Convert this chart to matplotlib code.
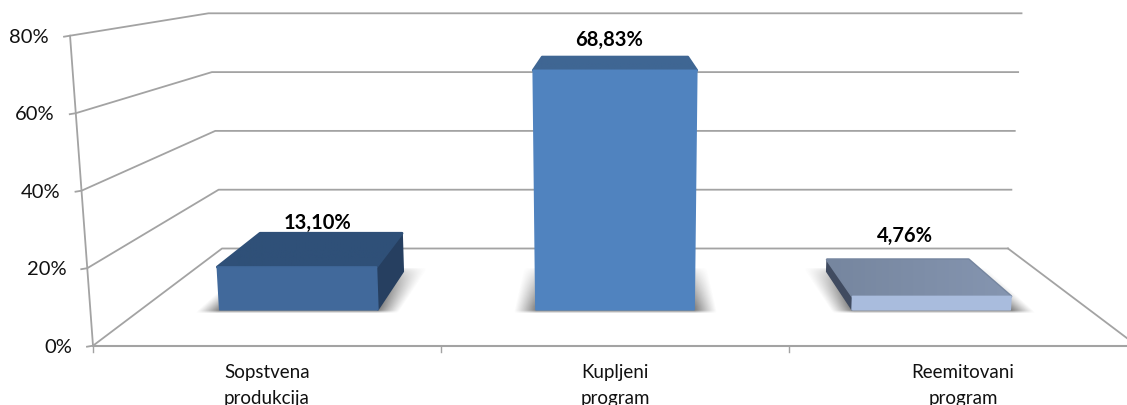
#!/usr/bin/env python3
"""
Recreate the 3D column chart (share of programme types)
"""

import matplotlib
matplotlib.use('Agg')
import matplotlib.pyplot as plt
from matplotlib.colors import to_rgb
from matplotlib.patches import Polygon
import numpy as np

# Data
categories = ['Sopstvena\nprodukcija', 'Kupljeni\nprogram', 'Reemitovani\nprogram']
values = [13.10, 68.83, 4.76]
value_ticks = [0, 20, 40, 60, 80]

# Colours per bar: front, top (dark end, light end), side
front_colors = ['#41699B', '#5083BF', '#A9BCDD']
top_colors = [('#2F5078', '#2F5078'), ('#3F6693', '#3F6693'), ('#76869F', '#8595B0')]
side_colors = ['#263F60', '#3F6693', '#404B60']
GRID = '#A3A3A3'

# Label nudges in pixels (x from bar centre, y from back top edge)
label_dx = [4, -6, -10]
label_dy = [-11, -18, -25]

# Box geometry in chart units
BAR_GAP = 0.25       # category units either side of a bar
DEPTH_FRONT = 0.37   # bars sit between these two floor depths
DEPTH_BACK = 0.763
BEVEL = 3.5          # px taken off the bar top


def project(x, t, v):
    """category position x, depth t (0 front, 1 back), value v -> pixels"""
    width = 348 - 86 * t
    lean = 0.00055 - 0.00012 * t
    px = 615 + (x - 1.5) * width * (1 + lean * v)
    py = (346.7 - 97.2 * t) - v * (3.875 - 0.935 * t)
    return px, py


def floor_depth(y):
    return (346.7 - y) / 97.2


fig = plt.figure(figsize=(11.27, 4.06), dpi=100)
ax = fig.add_axes([0, 0, 1, 1])
ax.set_xlim(0, 1127)
ax.set_ylim(406, 0)
ax.axis('off')
plt.rcParams['font.family'] = ['Lato', 'DejaVu Sans']

# Walls and floor lines
for v in value_ticks:
    front = project(0, 0, v)
    back = project(0, 1, v)
    right = project(3, 1, v)
    ax.plot([front[0] - 6, front[0], back[0], right[0]],
            [front[1] + 1, front[1], back[1], right[1]],
            color=GRID, lw=1.3, zorder=1)
    ax.text(front[0] - 21, front[1] + 0.5, f'{v}%', ha='right', va='center',
            fontsize=14.5, color='#111111')

p0, p1 = project(0, 0, 0), project(0, 0, value_ticks[-1])
ax.plot([p0[0], p1[0]], [p0[1], p1[1]], color=GRID, lw=1.3, zorder=1)
p0, p1 = project(0, 0, 0), project(3, 0, 0)
ax.plot([p0[0], p1[0]], [p0[1], p1[1]], color=GRID, lw=1.5, zorder=1)
p0, p1 = project(3, 0, 0), project(3, 1, 0)
ax.plot([p0[0], p1[0]], [p0[1], p1[1]], color=GRID, lw=1.3, zorder=1)
for i in range(len(categories) + 1):
    px, py = project(i, 0, 0)
    ax.plot([px, px], [py, py + 6], color=GRID, lw=1.0, zorder=1)

# Soft shadows on the floor
shadow = np.zeros((406, 1127))
yy, xx = np.mgrid[0:406, 0:1127]
tt = floor_depth(yy + 0.5)
for i in range(len(values)):
    left = project(i + BAR_GAP, tt, 0)[0]
    right = project(i + 1 - BAR_GAP, tt, 0)[0]
    spread = 22
    edge = np.clip((xx - (left - spread)) / spread, 0, 1) * np.clip(((right + spread) - xx) / spread, 0, 1)
    y_front = project(0, DEPTH_FRONT, 0)[1]
    y_back = project(0, DEPTH_BACK, 0)[1]
    fade = np.clip((yy - y_back + 4) / (y_front - y_back), 0, 1) ** 0.5
    cut = np.clip((y_front + 3 - yy) / 3, 0, 1)
    shadow = np.maximum(shadow, edge ** 1.1 * fade * cut)
rgba = np.zeros((406, 1127, 4))
rgba[..., :3] = 0.3
rgba[..., 3] = shadow * 0.72
ax.imshow(rgba, extent=[0, 1127, 406, 0], zorder=2, interpolation='bilinear', aspect='auto')
ax.set_xlim(0, 1127)
ax.set_ylim(406, 0)


def face(corners, color, zorder, lw=1.2):
    ax.add_patch(Polygon(corners, closed=True, facecolor=color, edgecolor=color,
                         lw=lw, joinstyle='round', zorder=zorder))


def gradient_face(corners, colors, zorder):
    face(corners, colors[0], zorder, lw=2.0)
    c0 = np.array(to_rgb(colors[0]))
    c1 = np.array(to_rgb(colors[1]))
    ramp = np.linspace(0, 1, 64)[None, :, None]
    img = c0[None, None, :] * (1 - ramp) + c1[None, None, :] * ramp
    pts = np.array(corners)
    patch = Polygon(corners, closed=True, facecolor='none', edgecolor='none', zorder=zorder)
    ax.add_patch(patch)
    im = ax.imshow(img, extent=[pts[:, 0].min(), pts[:, 0].max(), pts[:, 1].max(), pts[:, 1].min()],
                   zorder=zorder, aspect='auto')
    im.set_clip_path(patch)


# Bars
for i, v in enumerate(values):
    x0, x1 = i + BAR_GAP, i + 1 - BAR_GAP
    top = v - BEVEL / 3.5
    fl, fr = project(x0, DEPTH_FRONT, 0), project(x1, DEPTH_FRONT, 0)
    bl, br = project(x0, DEPTH_BACK, 0), project(x1, DEPTH_BACK, 0)
    ftl, ftr = project(x0, DEPTH_FRONT, top), project(x1, DEPTH_FRONT, top)
    btl, btr = project(x0, DEPTH_BACK, top), project(x1, DEPTH_BACK, top)

    if br[0] > fr[0]:
        face([fr, br, btr, ftr], side_colors[i], 3)
    if bl[0] < fl[0]:
        face([fl, bl, btl, ftl], side_colors[i], 3)
    gradient_face([ftl, ftr, btr, btl], top_colors[i], 4)
    face([fl, fr, ftr, ftl], front_colors[i], 5)

    label = f'{v:.2f}%'.replace('.', ',')
    ax.text((ftl[0] + ftr[0] + btl[0] + btr[0]) / 4 + label_dx[i], btl[1] + label_dy[i], label,
            ha='center', va='center', fontsize=14.5, fontweight='bold', color='black', zorder=6)

# Category labels
for i, name in enumerate(categories):
    px, py = project(i + 0.5, 0, 0)
    first, second = name.split('\n')
    ax.text(px, 373, first, ha='center', va='center', fontsize=13.5, color='#111111')
    ax.text(px, 399, second, ha='center', va='center', fontsize=13.5, color='#111111')

fig.savefig('out.png', dpi=100)
plt.close()
